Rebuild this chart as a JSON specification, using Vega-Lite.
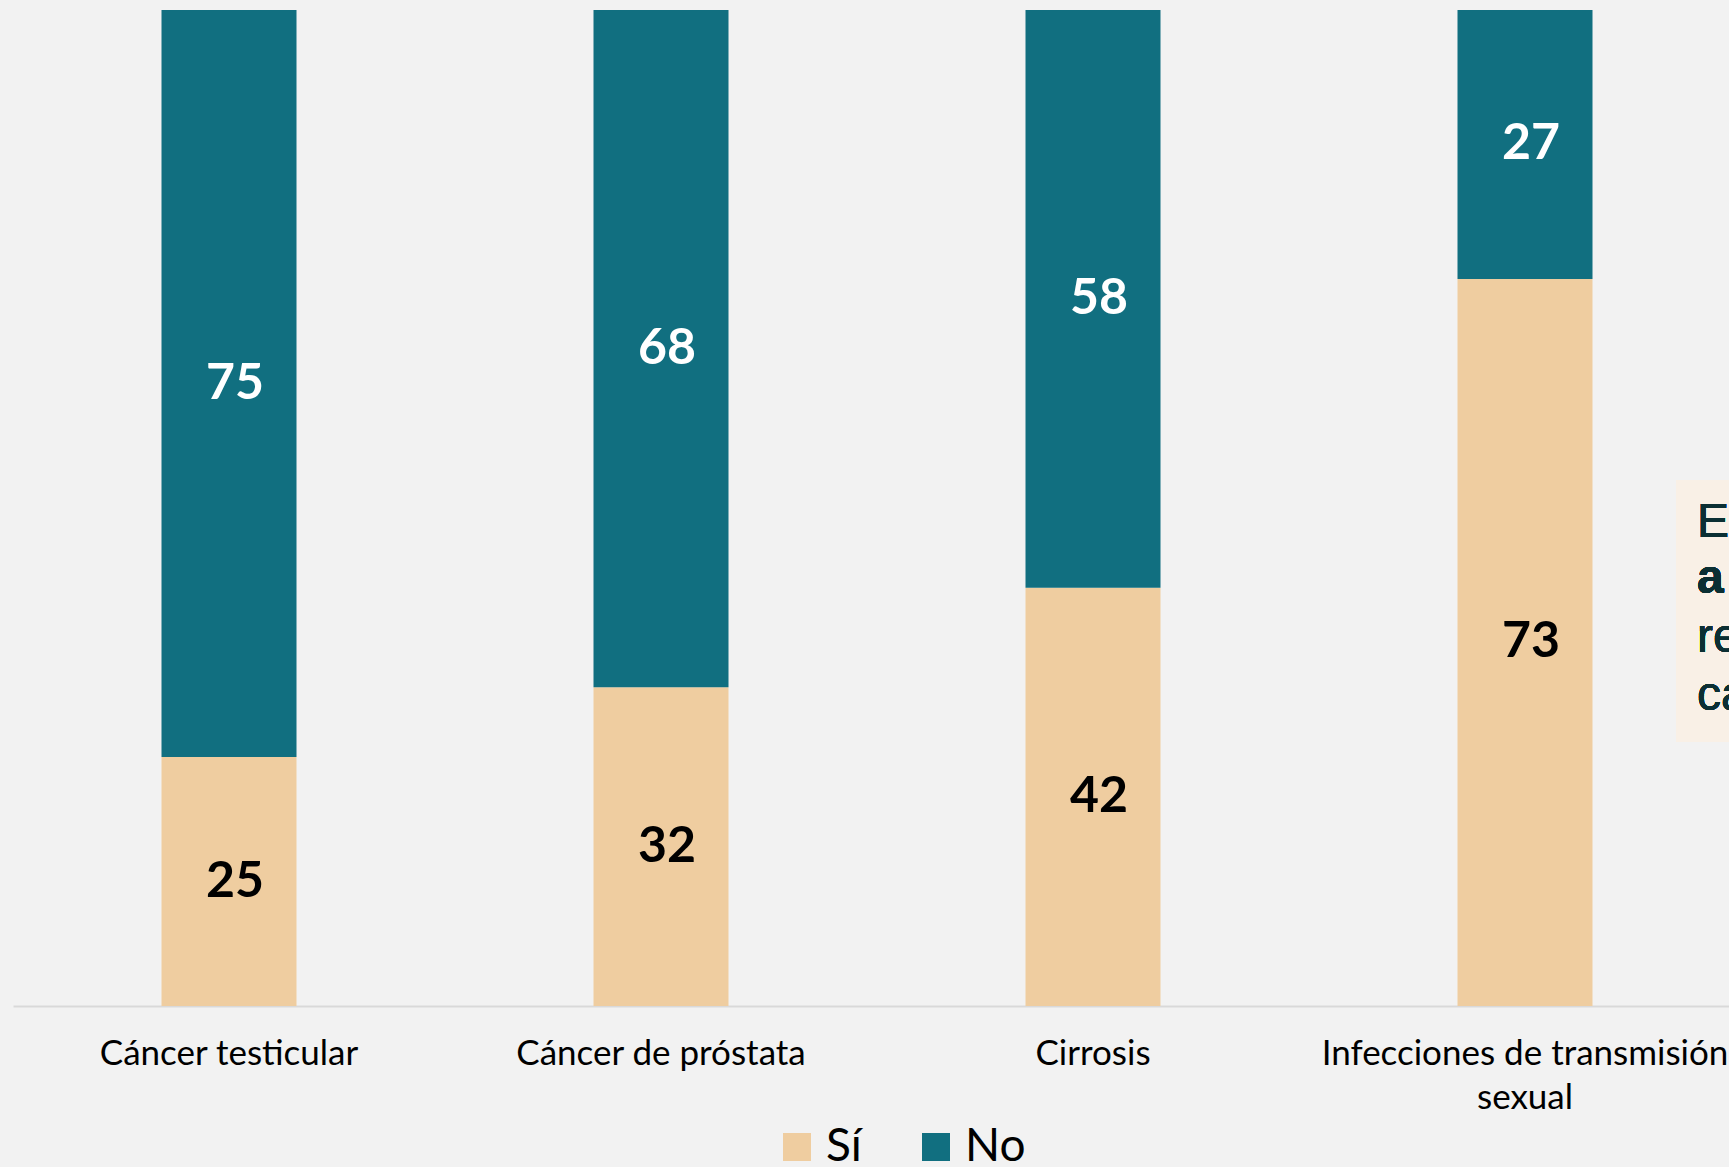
{
  "$schema": "https://vega.github.io/schema/vega-lite/v6.json",
  "width": 1716,
  "height": 996,
  "autosize": {"type": "none"},
  "padding": {"left": 13, "top": 10, "right": 0, "bottom": 161},
  "background": "#F2F2F2",
  "config": {"view": {"stroke": null}, "font": "Lato"},
  "data": {
    "values": [
      {"cat": "Cáncer testicular", "resp": "Sí", "val": 25},
      {"cat": "Cáncer testicular", "resp": "No", "val": 75},
      {"cat": "Cáncer de próstata", "resp": "Sí", "val": 32},
      {"cat": "Cáncer de próstata", "resp": "No", "val": 68},
      {"cat": "Cirrosis", "resp": "Sí", "val": 42},
      {"cat": "Cirrosis", "resp": "No", "val": 58},
      {"cat": "Infecciones de transmisión sexual", "resp": "Sí", "val": 73},
      {"cat": "Infecciones de transmisión sexual", "resp": "No", "val": 27}
    ]
  },
  "encoding": {
    "x": {
      "field": "cat", "type": "nominal", "sort": null,
      "scale": {"range": [0, 1728], "paddingInner": 0.6875, "paddingOuter": 0.34375},
      "axis": {
        "title": null, "labelAngle": 0, "ticks": false, "domainColor": "#D9D9D9", "domainWidth": 2,
        "labelFont": "Lato", "labelFontSize": 35, "labelColor": "#000000", "labelBaseline": "alphabetic",
        "labelPadding": 58, "labelLineHeight": 44, "labelLimit": 600,
        "labelExpr": "datum.label == 'Infecciones de transmisión sexual' ? ['Infecciones de transmisión', 'sexual'] : datum.label"
      }
    }
  },
  "layer": [
    {
      "mark": {"type": "bar"},
      "encoding": {
        "y": {"field": "val", "type": "quantitative", "stack": "zero", "scale": {"domain": [0, 100]}, "axis": null},
        "color": {
          "field": "resp", "type": "nominal", "sort": ["Sí", "No"],
          "scale": {"domain": ["Sí", "No"], "range": ["#EFCDA0", "#116F80"]},
          "legend": {
            "title": null, "orient": "none", "direction": "horizontal", "legendX": 761, "legendY": 1114,
            "symbolType": "square", "symbolSize": 784, "symbolStrokeWidth": 0, "symbolOpacity": 1,
            "labelFont": "Lato", "labelFontSize": 46, "labelColor": "#000000", "labelOffset": 6,
            "columnPadding": 51, "padding": 0
          }
        },
        "order": {"field": "resp", "sort": "descending"}
      }
    },
    {
      "transform": [
        {"stack": "val", "groupby": ["cat"], "sort": [{"field": "resp", "order": "descending"}], "as": ["v0", "v1"]},
        {"calculate": "(datum.v0 + datum.v1) / 2", "as": "mid"}
      ],
      "mark": {"type": "text", "font": "Lato", "fontWeight": "bold", "fontSize": 50, "baseline": "middle", "dx": 6},
      "encoding": {
        "y": {"field": "mid", "type": "quantitative"},
        "text": {"field": "val", "type": "quantitative"},
        "color": {"condition": {"test": "datum.resp == 'No'", "value": "#FFFFFF"}, "value": "#000000"}
      }
    },
    {
      "mark": {"type": "rule", "color": "#F9F0E6", "strokeWidth": 110, "strokeCap": "butt"},
      "encoding": {
        "x": {"datum": "Infecciones de transmisión sexual", "bandPosition": 2.026},
        "y": {"datum": 52.8, "type": "quantitative"},
        "y2": {"datum": 26.5}
      }
    },
    {
      "mark": {"type": "text", "font": "Liberation Sans", "fontSize": 48, "align": "left", "baseline": "alphabetic", "color": "#0B2F33", "text": "E"},
      "encoding": {
        "x": {"datum": "Infecciones de transmisión sexual", "bandPosition": 1.774},
        "y": {"datum": 47.1, "type": "quantitative"}
      }
    },
    {
      "mark": {"type": "text", "font": "Liberation Sans", "fontWeight": "bold", "fontSize": 48, "align": "left", "baseline": "alphabetic", "color": "#0B2F33", "text": "a"},
      "encoding": {
        "x": {"datum": "Infecciones de transmisión sexual", "bandPosition": 1.774},
        "y": {"datum": 41.5, "type": "quantitative"}
      }
    },
    {
      "mark": {"type": "text", "font": "Liberation Sans", "fontSize": 48, "align": "left", "baseline": "alphabetic", "lineHeight": 58, "color": "#0B2F33", "text": ["re", "ca"]},
      "encoding": {
        "x": {"datum": "Infecciones de transmisión sexual", "bandPosition": 1.774},
        "y": {"datum": 35.5, "type": "quantitative"}
      }
    }
  ]
}
